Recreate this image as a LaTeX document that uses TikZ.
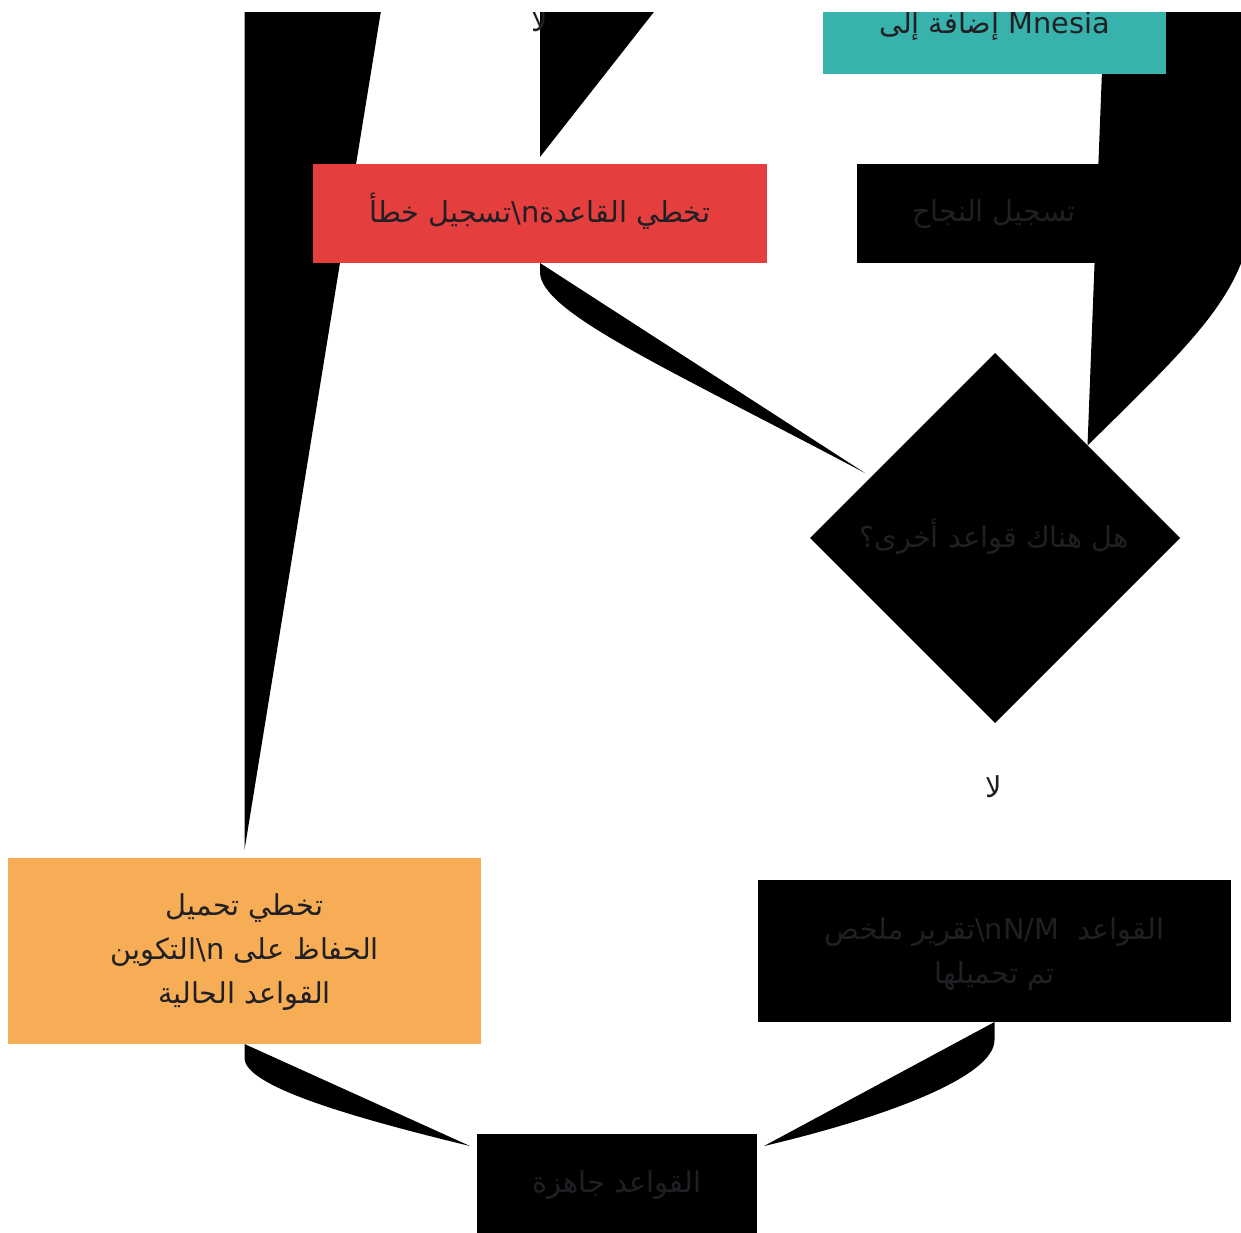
\documentclass[tikz,border=0pt]{standalone}
\usepackage{fontspec}
\setmainfont{DejaVu Sans}
\newfontfamily\arabicfont[Script=Arabic]{DejaVu Sans}
\TeXXeTstate=1
\usetikzlibrary{shapes.geometric}
\pgfdeclarelayer{bg}
\pgfsetlayers{bg,main}
\definecolor{tealc}{RGB}{56,178,172}
\definecolor{redc}{RGB}{229,62,62}
\definecolor{orangec}{RGB}{246,173,85}
\definecolor{textc}{RGB}{32,32,36}
\newcommand{\artxt}[1]{{\arabicfont\beginR #1\endR}}
\begin{document}
\begin{tikzpicture}[x=1pt,y=-1pt,
  boxn/.style={rectangle, draw=none, inner sep=0pt, outer sep=0pt},
  dia/.style={diamond, draw=none, inner sep=0pt, outer sep=0pt, fill=black},
  txt/.style={anchor=base, inner sep=0pt, outer sep=0pt, text=textc, font=\fontsize{28.8}{44}\selectfont},
  conn/.style={fill=black, draw=none}]
\useasboundingbox (0,0) rectangle (1241,1232);
\begin{scope}
\clip (0,12) rectangle (1241,1232);
% nodes
\node[boxn, fill=tealc, minimum width=343pt, minimum height=114pt] (add) at (994.5,17) {};
\node[boxn, fill=redc, minimum width=454pt, minimum height=99pt] (skip) at (540,213.5) {};
\node[boxn, fill=black, minimum width=274pt, minimum height=99pt] (success) at (994,213.5) {};
\node[dia, minimum width=370pt, minimum height=370pt] (more) at (995,538) {};
\node[boxn, fill=black, minimum width=473pt, minimum height=142pt] (summary) at (994.5,951) {};
\node[boxn, fill=orangec, minimum width=473pt, minimum height=186pt] (keep) at (244.5,951) {};
\node[boxn, fill=black, minimum width=280pt, minimum height=99pt] (ready) at (617,1183.5) {};
% texts
\node[txt] (add-t) at (994.5,33) {\artxt{إضافة إلى} Mnesia};
\node[txt] (skip-t) at (540,222) {\artxt{تسجيل خطأ}\textbackslash n\artxt{تخطي القاعدة}};
\node[txt] (success-t) at (994,221) {\artxt{تسجيل النجاح}};
\node[txt] (more-t) at (994,547) {\artxt{هل هناك قواعد أخرى؟}};
\node[txt] (summary-t1) at (994.5,939) {\artxt{تقرير ملخص}\textbackslash nN/M\ \ \artxt{القواعد}};
\node[txt] (summary-t2) at (994.5,983) {\artxt{تم تحميلها}};
\node[txt] (keep-t1) at (244.5,915) {\artxt{تخطي تحميل}};
\node[txt] (keep-t2) at (244.5,959) {\artxt{التكوين}\textbackslash n \artxt{الحفاظ على}};
\node[txt] (keep-t3) at (244.5,1003) {\artxt{القواعد الحالية}};
\node[txt] (ready-t) at (617,1192) {\artxt{القواعد جاهزة}};
% edge labels
\node[txt] (lbl-top) at (540,31) {\artxt{لا}};
\node[txt] (lbl-no) at (994,797) {\artxt{لا}};
\end{scope}
% connector end points
\coordinate (keep-in) at ([yshift=8pt]keep.north);
\coordinate (ka) at (244.5,-20);
\coordinate (kb) at (386,-20);
\coordinate (skip-in) at ([yshift=7pt]skip.north);
\coordinate (sa) at (540,-20);
\coordinate (sb) at (679,-20);
\coordinate (la) at (1254,190);
\coordinate (lb) at (1254,-20);
\coordinate (lc) at (1105.5,-20);
\coordinate (more-in) at (865,473);
\coordinate (ready-inl) at (470,1146);
\coordinate (ready-inr) at (764,1146);
\begin{pgfonlayer}{bg}
\begin{scope}
\clip (0,12) rectangle (1241,1232);
\fill[conn] (ka) -- (kb) -- (keep-in) -- cycle;
\fill[conn] (sa) -- (sb) -- (skip-in) -- cycle;
\fill[conn] (more.north east) .. controls (1205,330) and (1254,285) .. (la) -- (lb) -- (lc) -- cycle;
\fill[conn] (skip.south) -- (more-in) .. controls (665,367) and (540,312) .. (540,272) -- cycle;
\fill[conn] (keep.south) -- (ready-inl) .. controls (342,1115) and (244.5,1085) .. (244.5,1058) -- cycle;
\fill[conn] (summary.south) -- (ready-inr) .. controls (895,1115) and (994.5,1075) .. (994.5,1040) -- cycle;
\end{scope}
\end{pgfonlayer}
\end{tikzpicture}
\end{document}
